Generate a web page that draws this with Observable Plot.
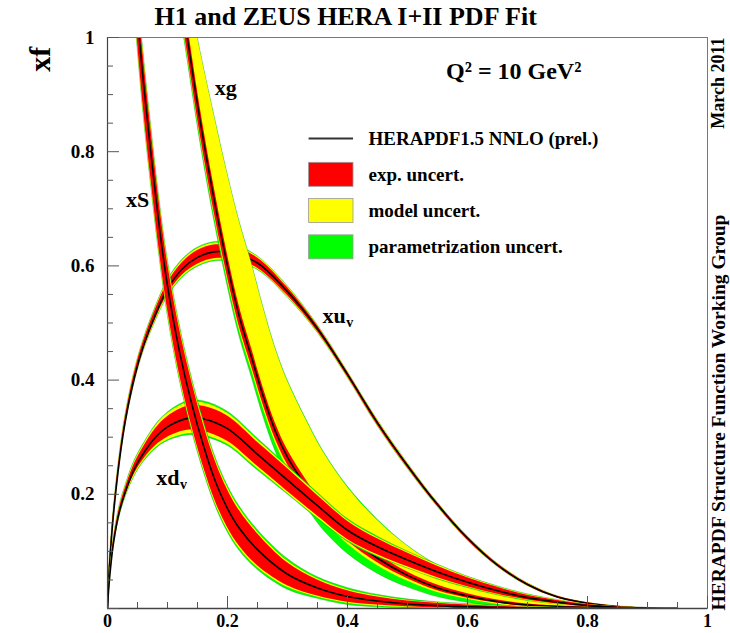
<!DOCTYPE html>
<html>
<head>
<meta charset="utf-8">
<script src="https://cdn.jsdelivr.net/npm/d3@7"></script>
<script src="https://cdn.jsdelivr.net/npm/@observablehq/plot@0.6"></script>
<style>
  body { margin: 0; background: #fff; }
</style>
</head>
<body>
<div id="chart"></div>
<script>
// HERAPDF1.5 NNLO parton densities at Q^2 = 10 GeV^2.
// Each distribution: x grid, central value, experimental half-width,
// model and parametrisation extensions (added outside the inner band).

// valence up
const uvX   = [0, 0.002, 0.005, 0.01, 0.02, 0.03, 0.045, 0.06, 0.08, 0.1, 0.125, 0.15, 0.18, 0.21, 0.25, 0.3, 0.35, 0.4, 0.45, 0.5, 0.55, 0.6, 0.65, 0.7, 0.75, 0.8, 0.85, 0.9, 0.95];
const uvC   = [0, 0.05, 0.1, 0.165, 0.26, 0.33, 0.405, 0.46, 0.515, 0.56, 0.595, 0.615, 0.625, 0.622, 0.605, 0.555, 0.49, 0.41, 0.325, 0.25, 0.182, 0.123, 0.076, 0.042, 0.02, 0.009, 0.003, 0.0005, 0];
const uvExp = [0, 0.003, 0.004, 0.005, 0.006, 0.007, 0.008, 0.008, 0.009, 0.01, 0.011, 0.012, 0.012, 0.011, 0.009, 0.007, 0.005, 0.004, 0.004, 0.0035, 0.003, 0.003, 0.0025, 0.002, 0.0015, 0.001, 0.001, 0.0005, 0];
const uvMod = [0, 0.001, 0.001, 0.001, 0.002, 0.002, 0.002, 0.002, 0.002, 0.003, 0.003, 0.003, 0.003, 0.003, 0.002, 0.002, 0.001, 0.001, 0.001, 0.001, 0.0005, 0.0005, 0.0005, 0.0005, 0, 0, 0, 0, 0];
const uvPar = [0, 0.0005, 0.001, 0.001, 0.001, 0.001, 0.001, 0.001, 0.002, 0.002, 0.002, 0.002, 0.002, 0.002, 0.001, 0.001, 0.001, 0.0005, 0.0005, 0.0005, 0.0005, 0, 0, 0, 0, 0, 0, 0, 0];

// valence down
const dvX   = [0, 0.002, 0.005, 0.01, 0.02, 0.03, 0.045, 0.06, 0.08, 0.1, 0.133, 0.16, 0.2, 0.25, 0.3, 0.35, 0.4, 0.45, 0.5, 0.55, 0.6, 0.65, 0.7, 0.75, 0.8, 0.85, 0.9, 0.95];
const dvC   = [0, 0.035, 0.07, 0.115, 0.17, 0.205, 0.245, 0.272, 0.3, 0.318, 0.333, 0.332, 0.315, 0.27, 0.225, 0.18, 0.137, 0.108, 0.085, 0.064, 0.046, 0.031, 0.019, 0.011, 0.005, 0.002, 0.0005, 0];
const dvExp = [0, 0.002, 0.003, 0.005, 0.006, 0.007, 0.009, 0.011, 0.015, 0.018, 0.021, 0.022, 0.022, 0.021, 0.02, 0.018, 0.016, 0.014, 0.012, 0.01, 0.008, 0.006, 0.004, 0.003, 0.002, 0.001, 0.0005, 0];
const dvMod = [0, 0.001, 0.001, 0.002, 0.002, 0.002, 0.003, 0.003, 0.004, 0.005, 0.006, 0.006, 0.005, 0.004, 0.003, 0.003, 0.002, 0.002, 0.002, 0.002, 0.001, 0.001, 0.001, 0.001, 0, 0, 0, 0];
const dvPar = [0, 0.001, 0.001, 0.001, 0.002, 0.002, 0.002, 0.002, 0.002, 0.002, 0.003, 0.003, 0.003, 0.003, 0.002, 0.002, 0.002, 0.002, 0.001, 0.001, 0.001, 0.001, 0.001, 0, 0, 0, 0, 0];

// sea
const sX   = [0.035, 0.045, 0.053, 0.06, 0.072, 0.088, 0.1, 0.12, 0.14, 0.16, 0.18, 0.2, 0.22, 0.25, 0.3, 0.35, 0.4, 0.45, 0.5, 0.55, 0.6, 0.7, 0.8, 0.9];
const sC   = [1.22, 1.1, 1.0, 0.92, 0.8, 0.655, 0.565, 0.45, 0.36, 0.285, 0.222, 0.175, 0.14, 0.103, 0.06, 0.036, 0.021, 0.013, 0.008, 0.005, 0.003, 0.001, 0.0003, 0];
const sExp = [0.045, 0.045, 0.045, 0.045, 0.044, 0.042, 0.041, 0.04, 0.039, 0.037, 0.035, 0.033, 0.031, 0.028, 0.02, 0.014, 0.01, 0.007, 0.005, 0.004, 0.003, 0.001, 0.0005, 0];
const sMod = [0.006, 0.006, 0.006, 0.006, 0.006, 0.005, 0.005, 0.005, 0.004, 0.004, 0.004, 0.004, 0.004, 0.003, 0.003, 0.002, 0.002, 0.002, 0.001, 0.001, 0.001, 0.0005, 0, 0];
const sPar = [0.004, 0.004, 0.004, 0.004, 0.004, 0.004, 0.004, 0.004, 0.004, 0.004, 0.004, 0.004, 0.004, 0.004, 0.004, 0.003, 0.003, 0.002, 0.002, 0.001, 0.001, 0.0005, 0, 0];

// gluon
const gX     = [0.11, 0.12, 0.133, 0.155, 0.177, 0.2, 0.22, 0.24, 0.26, 0.28, 0.3, 0.33, 0.36, 0.4, 0.45, 0.5, 0.55, 0.6, 0.65, 0.7, 0.8, 0.9];
const gC     = [1.18, 1.09, 1.0, 0.85, 0.72, 0.6, 0.51, 0.44, 0.37, 0.31, 0.265, 0.215, 0.172, 0.128, 0.088, 0.058, 0.036, 0.022, 0.012, 0.006, 0.0015, 0];
const gExp   = [0.03, 0.028, 0.026, 0.024, 0.022, 0.02, 0.018, 0.016, 0.015, 0.014, 0.013, 0.012, 0.011, 0.01, 0.008, 0.006, 0.005, 0.004, 0.003, 0.002, 0.001, 0];
const gModUp = [0.06, 0.065, 0.07, 0.1, 0.125, 0.14, 0.148, 0.148, 0.14, 0.13, 0.12, 0.105, 0.09, 0.074, 0.058, 0.045, 0.034, 0.024, 0.016, 0.01, 0.003, 0];
const gModDn = [0.004, 0.004, 0.004, 0.004, 0.005, 0.005, 0.005, 0.006, 0.006, 0.006, 0.006, 0.006, 0.006, 0.005, 0.005, 0.004, 0.003, 0.002, 0.002, 0.001, 0, 0];
const gParUp = [0.002, 0.002, 0.002, 0.002, 0.002, 0.002, 0.002, 0.002, 0.002, 0.002, 0.002, 0.002, 0.002, 0.002, 0.002, 0.001, 0.001, 0.001, 0.001, 0.0005, 0, 0];
const gParDn = [0.006, 0.006, 0.007, 0.008, 0.009, 0.01, 0.011, 0.012, 0.014, 0.015, 0.016, 0.017, 0.018, 0.017, 0.014, 0.011, 0.008, 0.006, 0.004, 0.002, 0.0005, 0];

// axis labels
const xTickValues = [0, 0.2, 0.4, 0.6, 0.8, 1];
const xTickLabels = ["0", "0.2", "0.4", "0.6", "0.8", "1"];
const yTickValues = [0.2, 0.4, 0.6, 0.8, 1];
const yTickLabels = ["0.2", "0.4", "0.6", "0.8", "1"];

// legend
const legendLabels = ["HERAPDF1.5 NNLO (prel.)", "exp. uncert.", "model uncert.", "parametrization uncert."];
const bandColors = { exp: "#ff0000", model: "#ffff00", param: "#00ff00" };

function bandRows(xs, c, e, mUp, mDn, pUp, pDn) {
  return xs.map((x, i) => {
    const rLo = c[i] - e[i], rHi = c[i] + e[i];
    const yLo = rLo - mDn[i], yHi = rHi + mUp[i];
    return { x, c: c[i], rLo, rHi, yLo, yHi, gLo: yLo - pDn[i], gHi: yHi + pUp[i] };
  });
}

const upV = bandRows(uvX, uvC, uvExp, uvMod, uvMod, uvPar, uvPar);
const downV = bandRows(dvX, dvC, dvExp, dvMod, dvMod, dvPar, dvPar);
const sea = bandRows(sX, sC, sExp, sMod, sMod, sPar, sPar);
const glue = bandRows(gX, gC, gExp, gModUp, gModDn, gParUp, gParDn);

// drawing order: later distributions are painted over earlier ones
const pdfs = [upV, glue, downV, sea];

const W = 730, H = 633;
const mL = 107, mR = 23, mT = 37, mB = 25;
const pxX = 1 / (W - mL - mR);   // data units per pixel, x
const pxY = 1 / (H - mT - mB);   // data units per pixel, y

const curve = "catmull-rom";
const bandMarks = pdfs.flatMap(rows => [
  Plot.areaY(rows, { x: "x", y1: "gLo", y2: "gHi", fill: bandColors.param, stroke: "#3d6b2a", strokeOpacity: 0.55, strokeWidth: 0.5, curve, clip: true }),
  Plot.areaY(rows, { x: "x", y1: "yLo", y2: "yHi", fill: bandColors.model, curve, clip: true }),
  Plot.areaY(rows, { x: "x", y1: "rLo", y2: "rHi", fill: bandColors.exp, curve, clip: true }),
  Plot.line(rows, { x: "x", y: "c", stroke: "#000", strokeWidth: 1.6, curve, clip: true })
]);

// ticks every 0.05, longer at the labelled values
const tickPos = d3.range(0, 21).map(i => i / 20);
const isMajor = v => Math.abs(v * 5 - Math.round(v * 5)) < 1e-9;

const font = "Liberation Serif, Times New Roman, serif";

// legend geometry (data units)
const lgX1 = 0.336, lgX2 = 0.41, lgText = 0.435;
const lgY0 = 0.823, lgStep = 0.0635, lgH = 0.042;
const swatches = [
  { fill: bandColors.exp, y: lgY0 - lgStep },
  { fill: bandColors.model, y: lgY0 - 2 * lgStep },
  { fill: bandColors.param, y: lgY0 - 3 * lgStep }
];

const chart = Plot.plot({
  width: W,
  height: H,
  marginLeft: mL,
  marginRight: mR,
  marginTop: mT,
  marginBottom: mB,
  x: { domain: [0, 1], axis: null },
  y: { domain: [0, 1], axis: null },
  style: { fontFamily: font, fontWeight: "bold", background: "#fff", color: "#000" },
  marks: [
    ...bandMarks,
    // frame and axis lines
    Plot.frame({ stroke: "#777", strokeWidth: 1 }),
    Plot.ruleY([0], { stroke: "#444", strokeWidth: 1.6 }),
    Plot.ruleX([0], { stroke: "#444", strokeWidth: 1.2 }),
    // inward ticks
    Plot.ruleX(tickPos, { x: d => d, y1: 0, y2: d => (isMajor(d) ? 12 : 6) * pxY, stroke: "#555", strokeWidth: 1 }),
    Plot.ruleY(tickPos, { y: d => d, x1: 0, x2: d => (isMajor(d) ? 12 : 6) * pxX, stroke: "#555", strokeWidth: 1 }),
    // tick labels
    Plot.text(xTickValues, { x: d => d, y: 0, text: (d, i) => xTickLabels[i], dy: 13, fontSize: 18, fontWeight: "bold" }),
    Plot.text(yTickValues, { x: 0, y: d => d, text: (d, i) => yTickLabels[i], dx: -13, textAnchor: "end", fontSize: 19, fontWeight: "bold" }),
    // title and side texts
    Plot.text(["H1 and ZEUS HERA I+II PDF Fit"], { x: 0.397, y: 1, dy: -21, fontSize: 26, fontWeight: "bold" }),
    Plot.text(["xf"], { x: 0, y: 0.962, dx: -67, rotate: -90, fontSize: 30, fontWeight: "bold" }),
    Plot.text(["HERAPDF Structure Function Working Group"], { x: 1, y: 0, dx: 11, dy: 2, rotate: -90, textAnchor: "start", fontSize: 19.5, fontWeight: "bold" }),
    Plot.text(["March 2011"], { x: 1, y: 1, dx: 11, rotate: -90, textAnchor: "end", fontSize: 18, fontWeight: "bold" }),
    Plot.text(["Q² = 10 GeV²"], { x: 0.677, y: 0.94, fontSize: 24, fontWeight: "bold" }),
    // curve labels
    Plot.text(["xg"], { x: 0.197, y: 0.912, fontSize: 22, fontWeight: "bold" }),
    Plot.text(["xS"], { x: 0.05, y: 0.716, fontSize: 22, fontWeight: "bold" }),
    Plot.text(["xu"], { x: 0.397, y: 0.512, textAnchor: "end", fontSize: 22, fontWeight: "bold" }),
    Plot.text(["v"], { x: 0.397, y: 0.512, dx: 0.5, dy: 6, textAnchor: "start", fontSize: 14, fontWeight: "bold" }),
    Plot.text(["xd"], { x: 0.12, y: 0.228, textAnchor: "end", fontSize: 22, fontWeight: "bold" }),
    Plot.text(["v"], { x: 0.12, y: 0.228, dx: 0.5, dy: 6, textAnchor: "start", fontSize: 14, fontWeight: "bold" }),
    // legend
    Plot.ruleY([lgY0], { x1: lgX1, x2: lgX2, stroke: "#333", strokeWidth: 2 }),
    Plot.rect(swatches, { x1: lgX1, x2: lgX2, y1: d => d.y - lgH / 2, y2: d => d.y + lgH / 2, fill: "fill", stroke: "#999", strokeWidth: 0.8 }),
    Plot.text(legendLabels, { x: lgText, y: (d, i) => lgY0 - i * lgStep, textAnchor: "start", fontSize: 19, fontWeight: "bold" })
  ]
});

document.getElementById("chart").appendChild(chart);
</script>
</body>
</html>
